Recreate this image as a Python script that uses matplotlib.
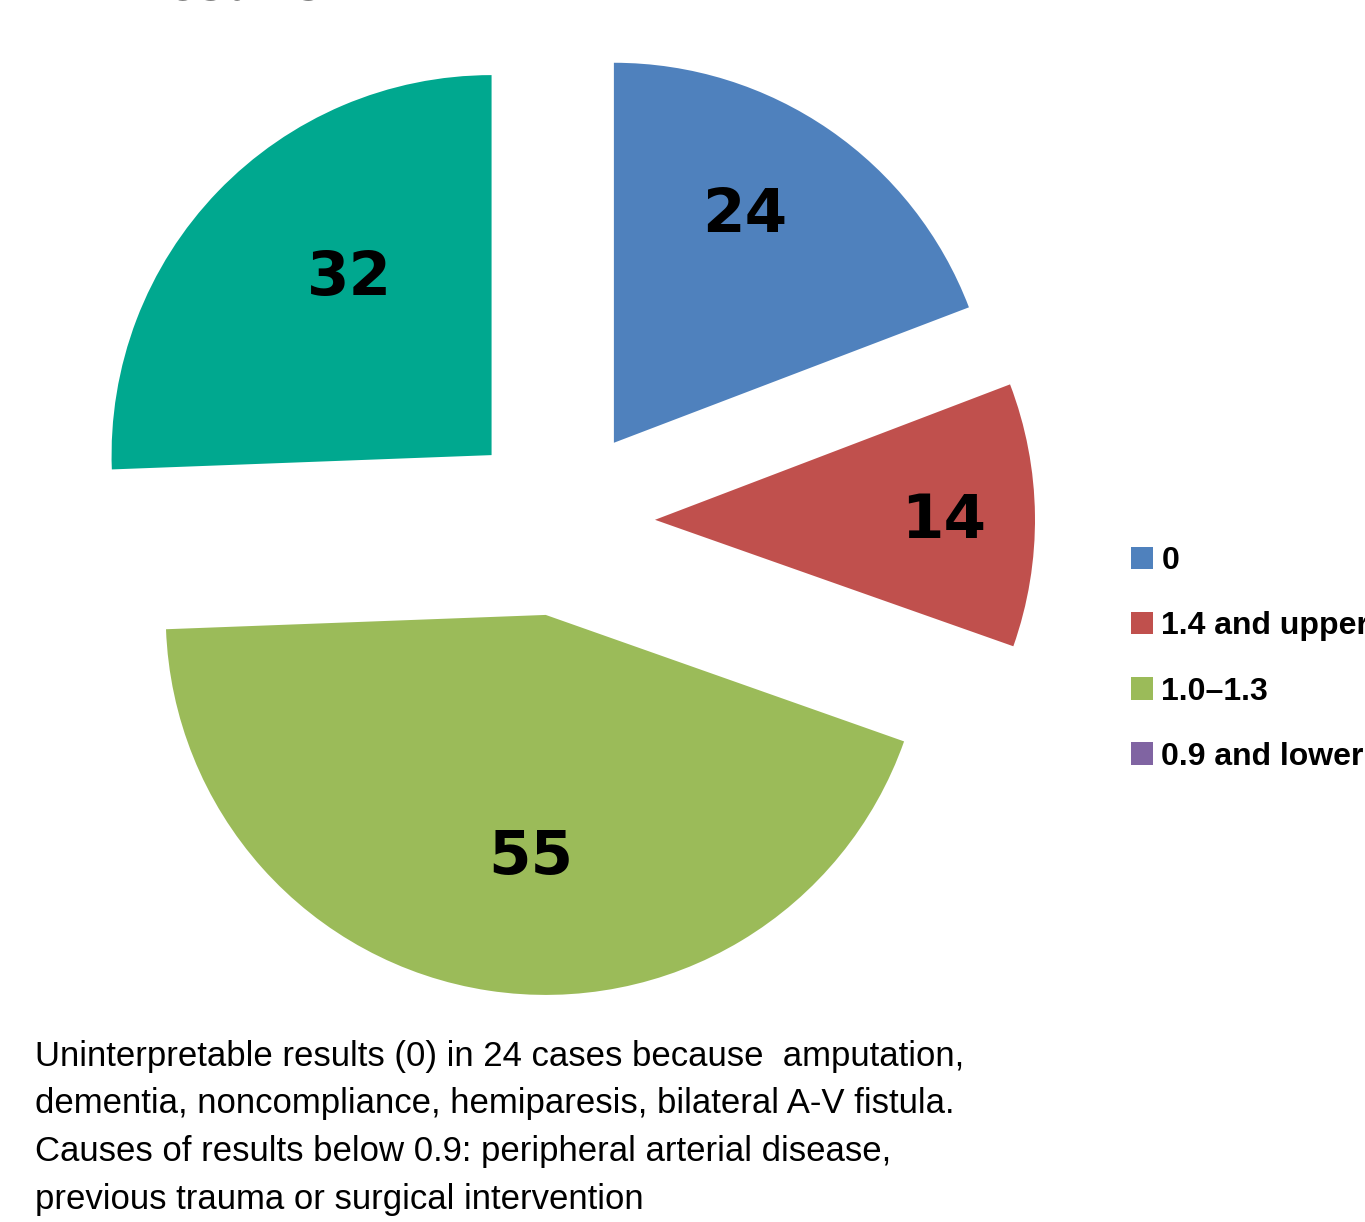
import matplotlib
matplotlib.use('Agg')
import matplotlib.pyplot as plt
from matplotlib.patches import Patch
import numpy as np

# ABI results, number of cases per class
counts = [24, 14, 55, 32]
slice_colors = ['#4F81BD', '#C0504D', '#9BBB59', '#00A88F']

legend_labels = ['0', '1.4 and upper', '1.0\u20131.3', '0.9 and lower']
legend_colors = ['#4F81BD', '#C0504D', '#9BBB59', '#8064A2']

caption_lines = [
    'Uninterpretable results (0) in 24 cases because  amputation,',
    'dementia, noncompliance, hemiparesis, bilateral A-V fistula.',
    'Causes of results below 0.9: peripheral arterial disease,',
    'previous trauma or surgical intervention',
]

W, H = 1365, 1222
fig = plt.figure(figsize=(W / 100, H / 100), dpi=100)

# pie centre at (560, 521) px, radius 380 px
R = 380
cx, cy = 560, 521
half = 1.5 * R
ax = fig.add_axes([(cx - half) / W, (H - cy - half) / H, 2 * half / W, 2 * half / H])

total = sum(counts)
wedges, texts, autotexts = ax.pie(
    counts, colors=slice_colors, startangle=90, counterclock=False,
    explode=[0.25] * len(counts), radius=1.0,
    autopct=lambda p: f'{round(p * total / 100)}',
    wedgeprops=dict(linewidth=0),
    textprops=dict(fontsize=44, fontweight='bold', color='black'),
)
# pie() resets the limits, so set them afterwards
ax.set_xlim(-1.5, 1.5)
ax.set_ylim(-1.5, 1.5)
ax.set_aspect('equal')
ax.axis('off')

# place value labels: distance from the wedge tip and angle tweak (deg)
label_dist = [0.69, 0.76, 0.64, 0.595]
label_turn = [4.7, -1.1, 5.1, -7.3]
for w, t, d, a in zip(wedges, autotexts, label_dist, label_turn):
    ang = np.deg2rad((w.theta1 + w.theta2) / 2 + a)
    ox, oy = w.center
    t.set_position((ox + d * np.cos(ang), oy + d * np.sin(ang)))

handles = [Patch(facecolor=c, edgecolor='none') for c in legend_colors]
fig.legend(handles, legend_labels, loc='center left',
           bbox_to_anchor=(1131 / W, 1 - 659 / H), frameon=False,
           prop=dict(size=23, weight='bold', family='Liberation Sans'),
           handlelength=0.7, handleheight=0.7, handletextpad=0.25,
           labelspacing=1.1, borderpad=0, borderaxespad=0)

# title, mostly above the top edge
fig.text(40 / W, 1.0, 'ABI results', fontsize=33, fontweight='bold',
         va='baseline', ha='left')

for i, line in enumerate(caption_lines):
    fig.text(35 / W, 1 - (1066 + i * 47.5) / H, line, fontsize=25,
             family='Liberation Sans', va='baseline', ha='left')

fig.savefig('out.png', dpi=100)
